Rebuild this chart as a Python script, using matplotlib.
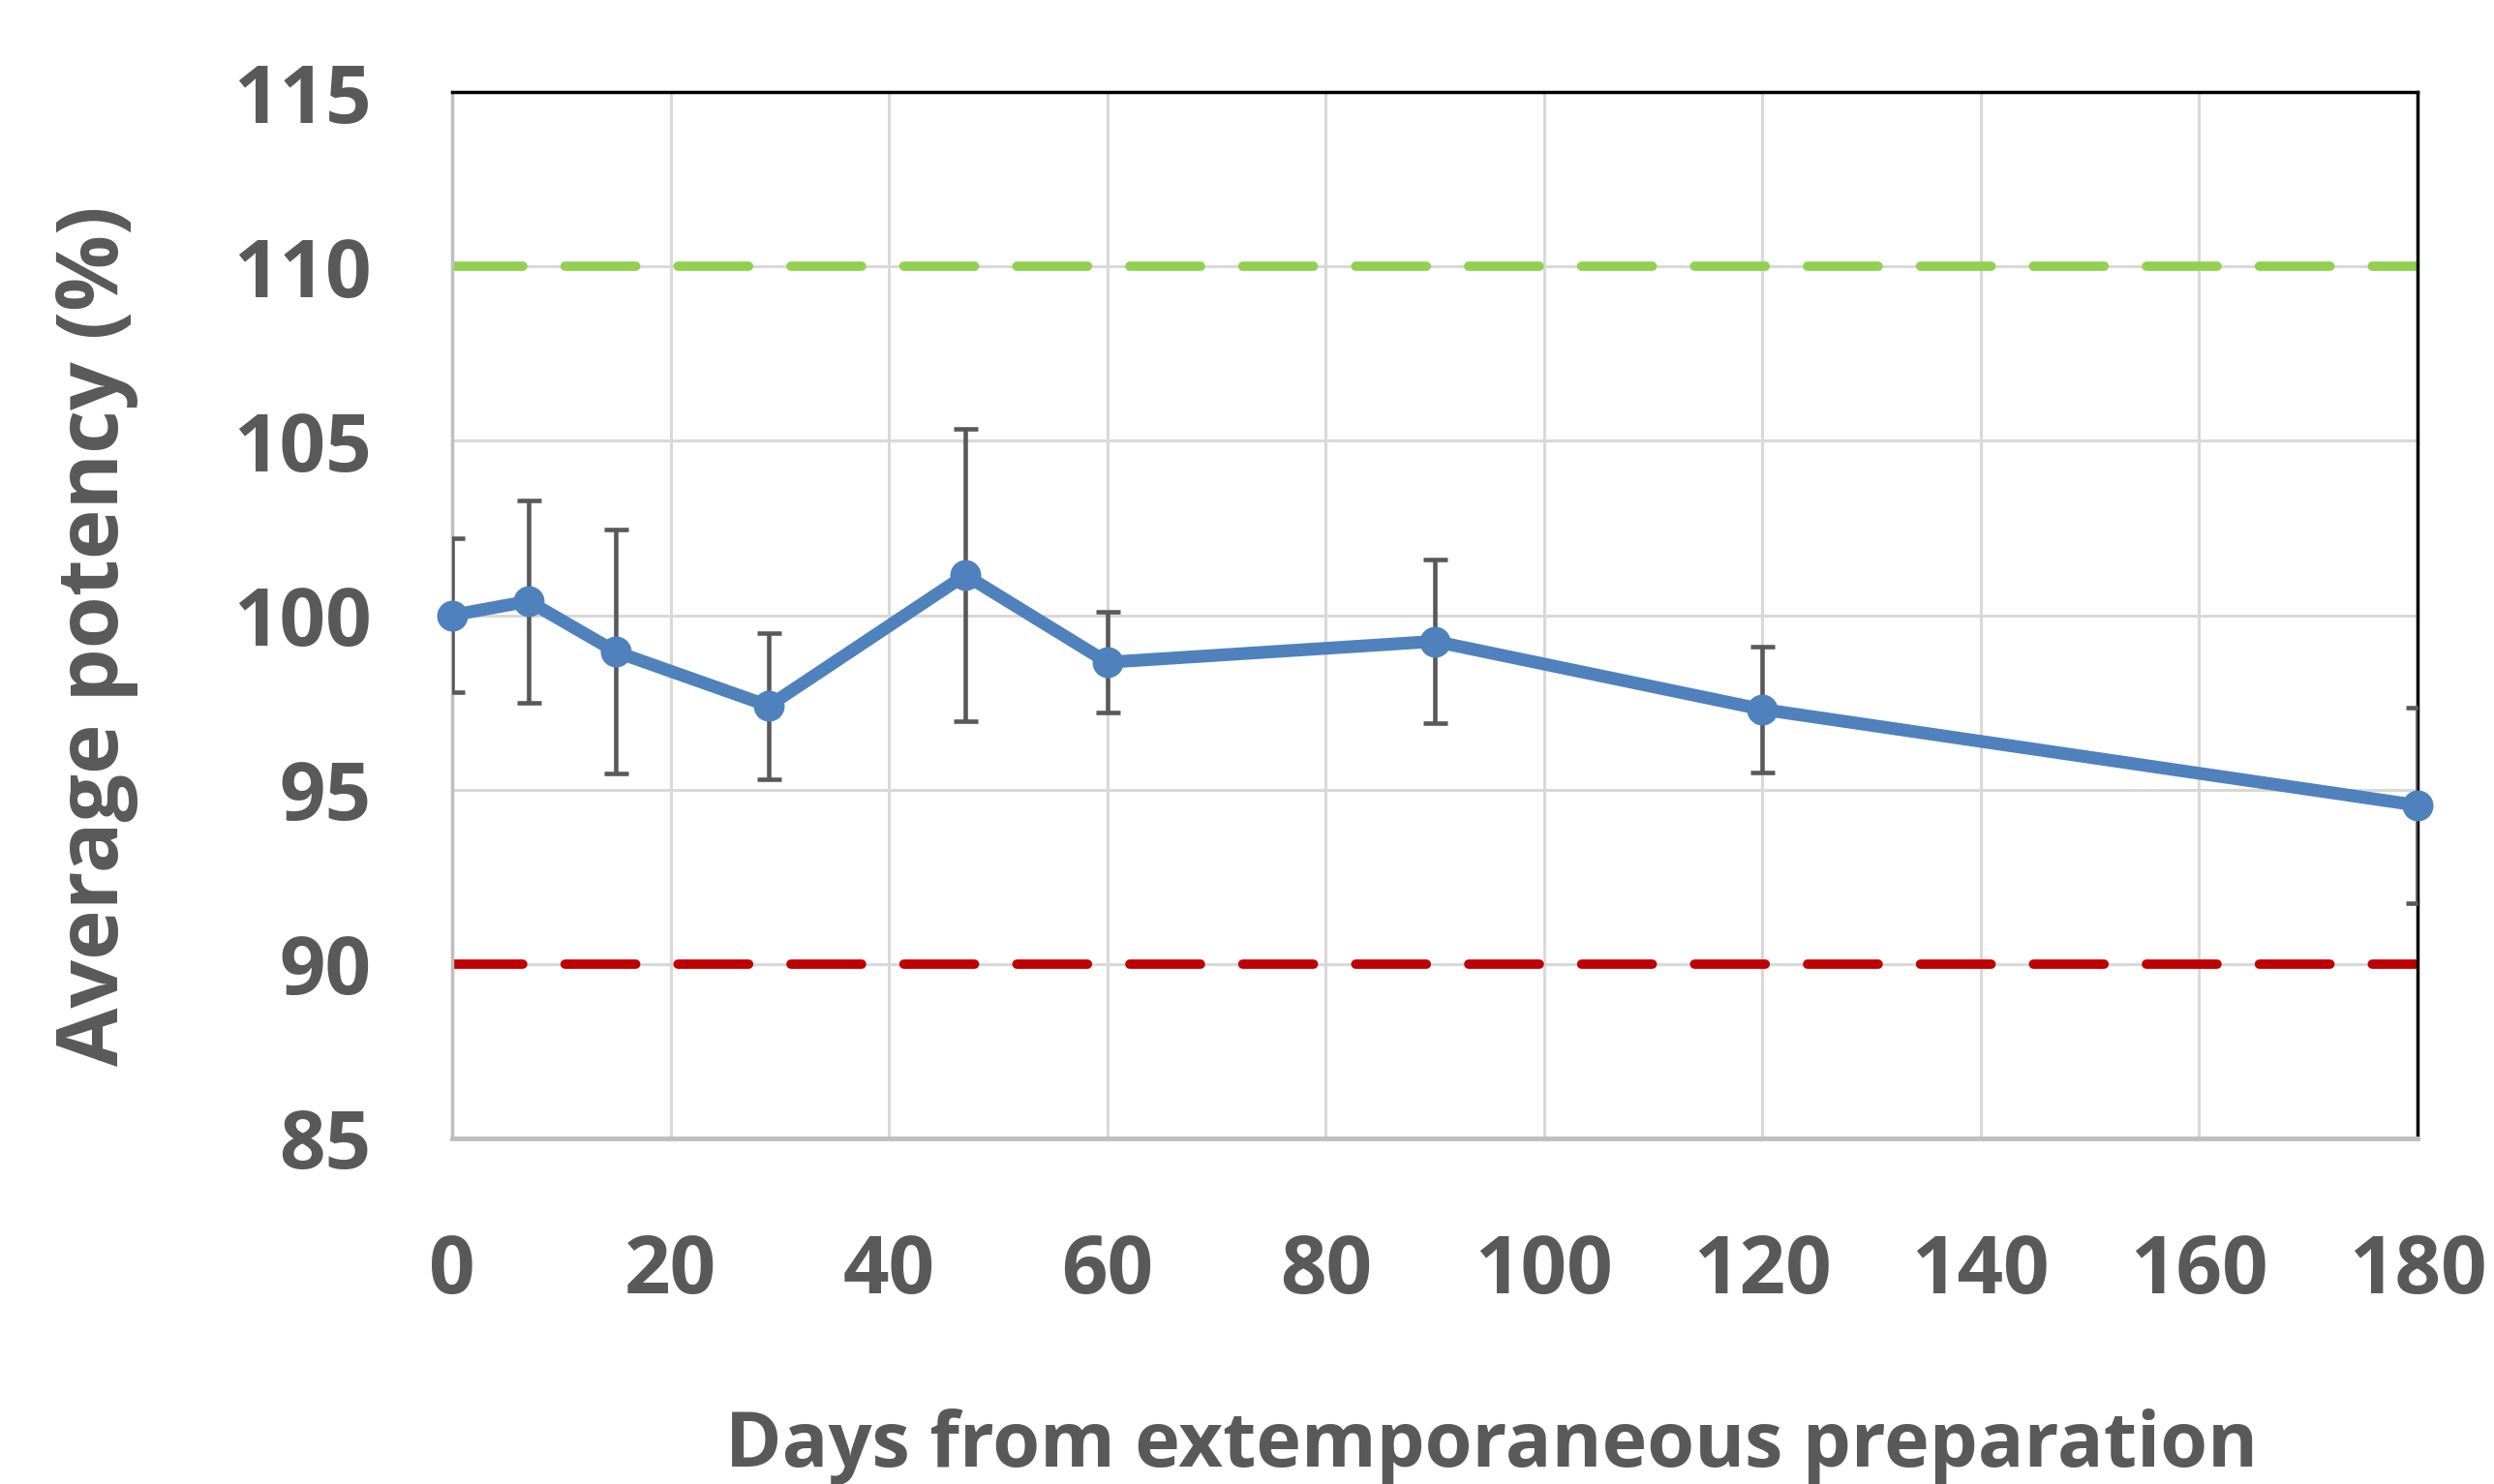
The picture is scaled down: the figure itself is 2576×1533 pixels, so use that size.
import matplotlib
matplotlib.use("Agg")
import matplotlib.pyplot as plt

days = [0, 7, 15, 29, 47, 60, 90, 120, 180]
potency = [100.0, 100.4, 98.95, 97.4, 101.15, 98.65, 99.25, 97.3, 94.55]
sd = [2.2, 2.9, 3.5, 2.1, 4.2, 1.45, 2.35, 1.8, 2.8]
upper_limit = 110
lower_limit = 90
xticks = [0, 20, 40, 60, 80, 100, 120, 140, 160, 180]
yticks = [85, 90, 95, 100, 105, 110, 115]

plt.rcParams['font.family'] = ['Open Sans', 'DejaVu Sans']

fig = plt.figure(figsize=(25.76, 15.33), dpi=100)
ax = fig.add_axes([0.1813, 0.2329, 0.9693 - 0.1813, 0.938 - 0.2329])

ax.set_xlim(0, 180)
ax.set_ylim(85, 115)
ax.set_xticks(xticks)
ax.set_yticks(yticks)
ax.grid(True, color='#D9D9D9', linewidth=2.2, zorder=0)
ax.set_axisbelow(True)

ax.axhline(upper_limit, color='#92D050', linewidth=7, dashes=(7.5, 4.5),
           dash_capstyle='round', zorder=2)
ax.axhline(lower_limit, color='#C00000', linewidth=7, dashes=(7.5, 4.5),
           dash_capstyle='round', zorder=2)

ax.errorbar(days, potency, yerr=sd, fmt='none', ecolor='#595959',
            elinewidth=3.3, capsize=9, capthick=3.3, zorder=3)
ax.plot(days, potency, color='#4F81BD', linewidth=9.5, marker='o',
        markersize=22, zorder=4, clip_on=False)

for side in ['top', 'right']:
    ax.spines[side].set_color('black')
    ax.spines[side].set_linewidth(2.5)
ax.spines['left'].set_color('#BFBFBF')
ax.spines['left'].set_linewidth(2.5)
ax.spines['bottom'].set_color('#BFBFBF')
ax.spines['bottom'].set_linewidth(3.5)

ax.tick_params(axis='both', length=0, labelsize=60, labelcolor='#595959')
ax.tick_params(axis='y', pad=60)
ax.tick_params(axis='x', pad=70)
for lab in ax.get_xticklabels() + ax.get_yticklabels():
    lab.set_fontweight('bold')

ax.set_xlabel('Days from extemporaneous preparation', fontsize=57,
              fontweight='bold', color='#595959', va='center')
ax.xaxis.set_label_coords(0.529, -0.295)
ax.set_ylabel('Average potency (%)', fontsize=63, fontweight='bold',
              color='#595959', va='center')
ax.yaxis.set_label_coords(-0.1815, 0.48)

fig.savefig('out.png', dpi=100)
